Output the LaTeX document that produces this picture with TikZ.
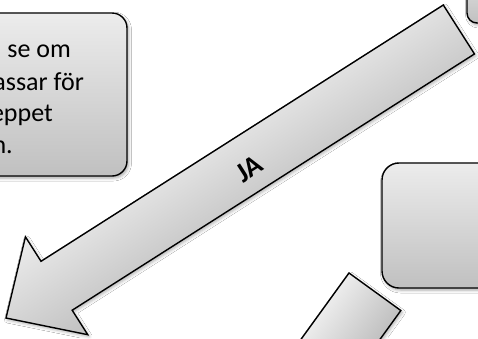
\documentclass[tikz,border=0pt]{standalone}
\usepackage{fontspec}
\setmainfont{Carlito}
\usetikzlibrary{shadows.blur}
\definecolor{gtop}{HTML}{ECECEC}
\definecolor{gbot}{HTML}{C0C0C0}
\tikzset{
  box/.style={draw=black, line width=1.4pt, top color=gtop, bottom color=gbot,
    blur shadow={shadow xshift=1.5pt, shadow yshift=-2pt, shadow blur radius=3pt, shadow opacity=35}},
  bigarrow/.style={draw=black, line width=1.4pt, top color=gtop, bottom color=gbot,
    blur shadow={shadow xshift=0.2pt, shadow yshift=-2.5pt, shadow blur radius=3pt, shadow opacity=30}},
  smallarrow/.style={draw=black, line width=1.4pt, top color=gtop, bottom color=gbot,
    blur shadow={shadow xshift=-0.7pt, shadow yshift=-2.4pt, shadow blur radius=3pt, shadow opacity=30}},
  txt/.style={inner sep=0pt, font=\fontsize{26}{32}\selectfont, anchor=base east},
  jatext/.style={inner sep=0pt, font=\bfseries\fontsize{28}{32}\selectfont}
}
\begin{document}
\begin{tikzpicture}[x=1pt,y=-1pt]
\useasboundingbox (0,0) rectangle (478,338);
\fill[white] (0,0) rectangle (478,338);
% boxes
\draw[box, rounded corners=15pt] (-40,13) rectangle (127,176);
\draw[box, rounded corners=10pt] (467,-40) rectangle (520,23);
\draw[box, rounded corners=17pt] (382,163) rectangle (530,288);
% text of the left box
\node[txt] (t1) at (71,57) {se om};
\node[txt] (t2) at (84,90) {assar för};
\node[txt] (t3) at (53,121) {eppet};
\node[txt] (t4) at (13,153) {n.};
% big arrow
\begin{scope}[transform canvas={shift={(6,318)}, rotate=32.5}]
  \draw[bigarrow] (0,0) -- (60,-58) -- (60,-29) -- (537,-29) -- (537,29) -- (60,29) -- (60,58) -- cycle;
  \node[jatext] (ja) at (285,5) {JA};
\end{scope}
% small arrow
\begin{scope}[transform canvas={shift={(349,273)}, rotate=54.1}]
  \draw[smallarrow] (0,0) -- (0,64) -- (-200,64) -- (-200,0) -- cycle;
\end{scope}
\end{tikzpicture}
\end{document}
